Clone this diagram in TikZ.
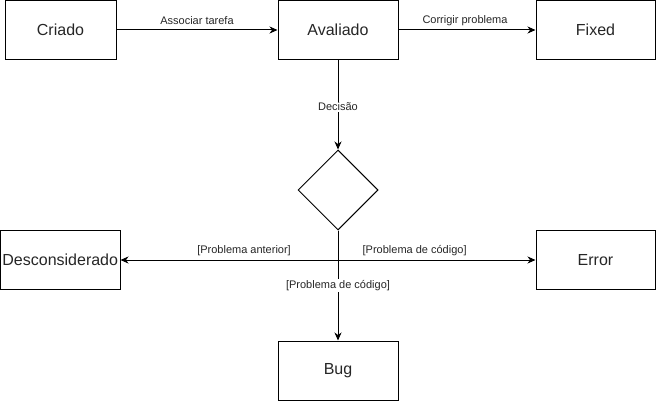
\documentclass[tikz,border=0pt]{standalone}
\usepackage{fontspec}
\setmainfont{Liberation Sans}
\usetikzlibrary{shapes.geometric,arrows.meta}
\tikzset{
  box/.style={draw, line width=1pt, inner sep=0pt, minimum width=120pt, minimum height=59pt,
    font=\fontsize{16}{19}\selectfont, text=black!85},
  decision/.style={draw, line width=1pt, diamond, inner sep=0pt, minimum width=80pt, minimum height=80pt},
  arr/.style={line width=1pt, -{Stealth[length=8pt,width=7pt,inset=2.5pt]}},
  lbl/.style={font=\fontsize{11}{13}\selectfont, text=black!85, inner sep=1pt},
}
\begin{document}
\begin{tikzpicture}[x=1pt,y=-1pt]
\useasboundingbox (0,0) rectangle (656,401);
\node[box, minimum width=111pt] (criado) at (60.5,30) {Criado};
\node[box] (avaliado) at (338,30) {Avaliado};
\node[box, minimum width=119pt] (fixed) at (595.5,30) {Fixed};
\node[decision] (dia) at (338,190) {};
\node[box, minimum width=119.5pt] (desc) at (60.25,260) {Desconsiderado};
\node[box, minimum width=119pt] (error) at (595.5,260) {Error};
\node[box] (bug) at (338,370.5) {Bug};

\draw[arr] (criado) -- (avaliado) node[lbl, midway, yshift=9pt] {Associar tarefa};
\draw[arr] (avaliado) -- (fixed) node[lbl, midway, yshift=9pt, xshift=-2pt] {Corrigir problema};
\draw[arr] (avaliado) -- (dia) node[lbl, pos=0.52, fill=white] {Decisão};
\draw[arr] (dia.south) |- (desc.east) node[lbl, pos=0.716, yshift=9pt] {[Problema anterior]};
\draw[arr] (dia.south) |- (error.west) node[lbl, pos=0.694, yshift=9pt] {[Problema de código]};
\draw[arr] (dia) -- (bug) node[lbl, midway, fill=white] {[Problema de código]};
\end{tikzpicture}
\end{document}
